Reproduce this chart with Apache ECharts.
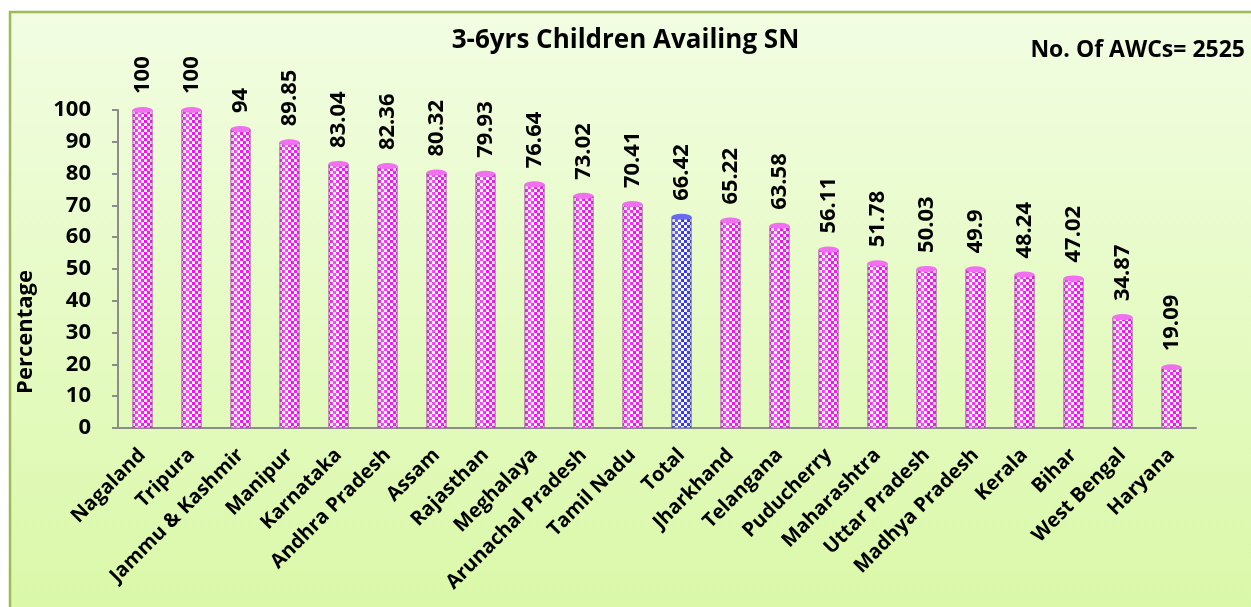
<!DOCTYPE html>
<html>
<head>
<meta charset="utf-8">
<script src="https://cdn.jsdelivr.net/npm/echarts@6/dist/echarts.min.js"></script>
<style>
  html, body { margin: 0; padding: 0; background: #fff; }
  #main { width: 1251px; height: 607px; }
</style>
</head>
<body>
<div id="main"></div>
<script>
var states = ['Nagaland', 'Tripura', 'Jammu & Kashmir', 'Manipur', 'Karnataka', 'Andhra Pradesh',
  'Assam', 'Rajasthan', 'Meghalaya', 'Arunachal Pradesh', 'Tamil Nadu', 'Total', 'Jharkhand',
  'Telangana', 'Puducherry', 'Maharashtra', 'Uttar Pradesh', 'Madhya Pradesh', 'Kerala', 'Bihar',
  'West Bengal', 'Haryana'];
var percents = [100, 100, 94, 89.85, 83.04, 82.36, 80.32, 79.93, 76.64, 73.02, 70.41, 66.42,
  65.22, 63.58, 56.11, 51.78, 50.03, 49.9, 48.24, 47.02, 34.87, 19.09];
var yTicks = [0, 10, 20, 30, 40, 50, 60, 70, 80, 90, 100];

// checker pattern like the excel fill
function checker(c) {
  var cv = document.createElement('canvas');
  cv.width = 6; cv.height = 6;
  var ctx = cv.getContext('2d');
  ctx.fillStyle = '#ffffff';
  ctx.fillRect(0, 0, 6, 6);
  ctx.fillStyle = c;
  ctx.fillRect(0, 0, 3, 3);
  ctx.fillRect(3, 3, 3, 3);
  return cv;
}
var pinkFill = { image: checker('#ff00ff'), repeat: 'repeat' };
var blueFill = { image: checker('#2a2aee'), repeat: 'repeat' };

var fnt = '"Open Sans", "DejaVu Sans", sans-serif';

var chart = echarts.init(document.getElementById('main'));
var option = {
  textStyle: { fontFamily: fnt },
  graphic: [{
    type: 'rect',
    z: -10,
    shape: { x: 10, y: 12, width: 1260, height: 620 },
    style: {
      fill: new echarts.graphic.LinearGradient(0, 0, 0, 1, [
        { offset: 0, color: '#f2fde2' },
        { offset: 1, color: '#d9f8a6' }
      ]),
      stroke: '#9bbb59',
      lineWidth: 2.5
    }
  }],
  title: [{
    text: '3-6yrs Children Availing SN',
    left: 'center',
    top: 23,
    textStyle: { fontSize: 26, fontWeight: 'bold', color: '#000', fontFamily: fnt }
  }, {
    text: 'No. Of AWCs= 2525',
    right: 1,
    top: 34,
    textStyle: { fontSize: 23, fontWeight: 'bold', color: '#000', fontFamily: fnt }
  }],
  grid: { left: 118, right: 55, top: 110, bottom: 179 },
  xAxis: {
    type: 'category',
    data: states,
    axisLine: { lineStyle: { color: '#8c8c8c', width: 2 } },
    axisTick: { lineStyle: { color: '#8c8c8c', width: 2 }, length: 7 },
    axisLabel: {
      interval: 0,
      rotate: 45,
      fontSize: 20,
      fontWeight: 'bold',
      color: '#000',
      margin: 24
    }
  },
  yAxis: {
    type: 'value',
    min: 0,
    max: 100,
    interval: 10,
    name: 'Percentage',
    nameLocation: 'middle',
    nameGap: 81,
    nameTextStyle: { fontSize: 22, fontWeight: 'bold', color: '#000', padding: [0, 126, 0, 0] },
    axisLine: { show: true, lineStyle: { color: '#8c8c8c', width: 2 } },
    axisTick: { show: true, lineStyle: { color: '#8c8c8c', width: 2 }, length: 6 },
    splitLine: { show: false },
    axisLabel: {
      fontSize: 22,
      fontWeight: 'bold',
      color: '#000',
      margin: 27,
      formatter: function (v) { return yTicks.indexOf(v) >= 0 ? String(v) : ''; }
    }
  },
  series: [{
    name: 'pct',
    type: 'bar',
    barWidth: 20,
    data: percents.map(function (v, i) {
      return {
        value: v,
        itemStyle: {
          color: states[i] === 'Total' ? blueFill : pinkFill,
          borderColor: states[i] === 'Total' ? '#5050c8' : '#c040c0',
          borderWidth: 0.6
        }
      };
    }),
    label: {
      show: true,
      position: 'top',
      rotate: 90,
      align: 'left',
      verticalAlign: 'middle',
      distance: 16,
      fontSize: 22,
      fontWeight: 'bold',
      color: '#000',
      fontFamily: fnt
    },
    z: 2
  }, {
    name: 'shade',
    type: 'bar',
    barWidth: 20,
    barGap: '-100%',
    silent: true,
    data: percents,
    itemStyle: {
      color: new echarts.graphic.LinearGradient(0, 0, 1, 0, [
        { offset: 0, color: 'rgba(90,90,90,0.35)' },
        { offset: 0.3, color: 'rgba(255,255,255,0.3)' },
        { offset: 0.6, color: 'rgba(255,255,255,0)' },
        { offset: 1, color: 'rgba(90,90,90,0.35)' }
      ])
    },
    z: 3
  }, {
    name: 'cap',
    type: 'pictorialBar',
    symbol: 'circle',
    symbolSize: [20, 6],
    symbolPosition: 'end',
    symbolOffset: [0, '-50%'],
    silent: true,
    data: percents.map(function (v, i) {
      return {
        value: v,
        itemStyle: { color: states[i] === 'Total' ? '#6a6af0' : '#f070f0' }
      };
    }),
    z: 4
  }]
};
chart.setOption(option);
</script>
</body>
</html>
